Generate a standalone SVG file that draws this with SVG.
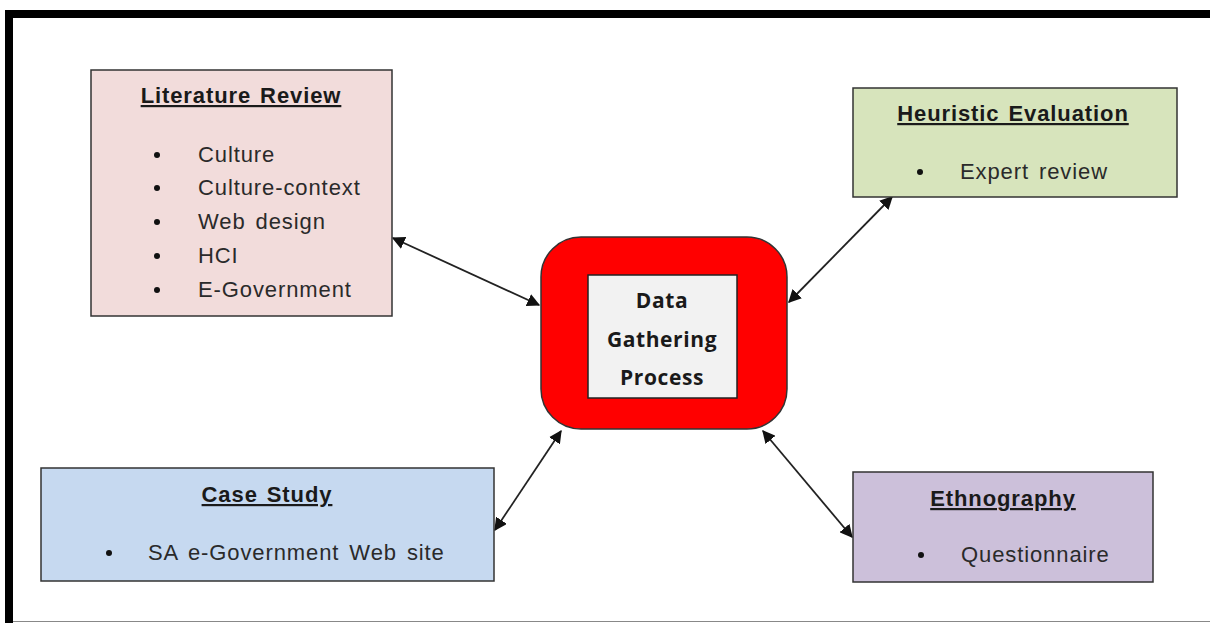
<svg xmlns="http://www.w3.org/2000/svg" width="1210" height="623" viewBox="0 0 1210 623">
  <style>
    .box { stroke: #333; stroke-width: 1.5; }
    .title { font-family: "Liberation Sans", Arial, sans-serif; font-size: 22px; font-weight: bold; fill: #1a1a1a; text-anchor: middle; text-decoration: underline; letter-spacing: 0.9px; word-spacing: 2px; }
    .item { font-family: "Liberation Sans", Arial, sans-serif; font-size: 22px; fill: #2a2a2a; letter-spacing: 0.9px; word-spacing: 3px; }
    .core { font-family: "Open Sans", "Noto Sans", sans-serif; font-size: 21px; font-weight: bold; fill: #1a1a1a; text-anchor: middle; letter-spacing: 0.6px; }
    .link { stroke: #222; stroke-width: 1.8; fill: none; marker-start: url(#head); marker-end: url(#head); }
  </style>
  <defs>
    <marker id="head" viewBox="0 0 10 10" refX="9" refY="5" markerWidth="13" markerHeight="13" markerUnits="userSpaceOnUse" orient="auto-start-reverse">
      <path d="M0,0 L10,5 L0,10 z" fill="#111"/>
    </marker>
  </defs>

  <!-- page frame -->
  <rect x="0" y="0" width="1210" height="623" fill="#fff"/>
  <rect x="5" y="10" width="1205" height="8" fill="#000"/>
  <rect x="5" y="10" width="8" height="613" fill="#000"/>
  <line x1="13" y1="621.5" x2="1210" y2="621.5" stroke="#888" stroke-width="1"/>

  <g id="connectors">
    <line class="link" x1="393" y1="238" x2="539" y2="305"/>
    <line class="link" x1="892" y1="197" x2="789" y2="302"/>
    <line class="link" x1="495" y1="530" x2="561" y2="431"/>
    <line class="link" x1="763" y1="431" x2="852" y2="537"/>
  </g>

  <g id="literature-review">
    <rect class="box" x="91" y="70" width="301" height="246" fill="#f2dcdb"/>
    <text class="title" x="241" y="103">Literature Review</text>
    <g fill="#111">
      <circle cx="157" cy="155" r="3"/>
      <circle cx="157" cy="188" r="3"/>
      <circle cx="157" cy="222" r="3"/>
      <circle cx="157" cy="256" r="3"/>
      <circle cx="157" cy="290" r="3"/>
    </g>
    <text class="item" x="198" y="162">Culture</text>
    <text class="item" x="198" y="195">Culture-context</text>
    <text class="item" x="198" y="229">Web design</text>
    <text class="item" x="198" y="263">HCI</text>
    <text class="item" x="198" y="297">E-Government</text>
  </g>

  <g id="heuristic-evaluation">
    <rect class="box" x="853" y="88" width="324" height="109" fill="#d7e4bc"/>
    <text class="title" x="1013" y="121">Heuristic Evaluation</text>
    <circle cx="920" cy="172" r="3" fill="#111"/>
    <text class="item" x="960" y="179">Expert review</text>
  </g>

  <g id="case-study">
    <rect class="box" x="41" y="468" width="453" height="113" fill="#c6d9f0"/>
    <text class="title" x="267" y="502">Case Study</text>
    <circle cx="109" cy="553" r="3" fill="#111"/>
    <text class="item" x="148" y="560">SA e-Government Web site</text>
  </g>

  <g id="ethnography">
    <rect class="box" x="853" y="472" width="300" height="110" fill="#ccc0da"/>
    <text class="title" x="1003" y="506">Ethnography</text>
    <circle cx="921" cy="555" r="3" fill="#111"/>
    <text class="item" x="961" y="562">Questionnaire</text>
  </g>

  <g id="data-gathering-process">
    <rect x="541" y="237" width="246" height="192" rx="40" ry="40" fill="#ff0000" stroke="#333" stroke-width="1.5"/>
    <rect x="588" y="275" width="149" height="123" fill="#f2f2f2" stroke="#222" stroke-width="1.5"/>
    <text class="core" x="662" y="308">Data</text>
    <text class="core" x="662" y="347">Gathering</text>
    <text class="core" x="662" y="385">Process</text>
  </g>
</svg>
